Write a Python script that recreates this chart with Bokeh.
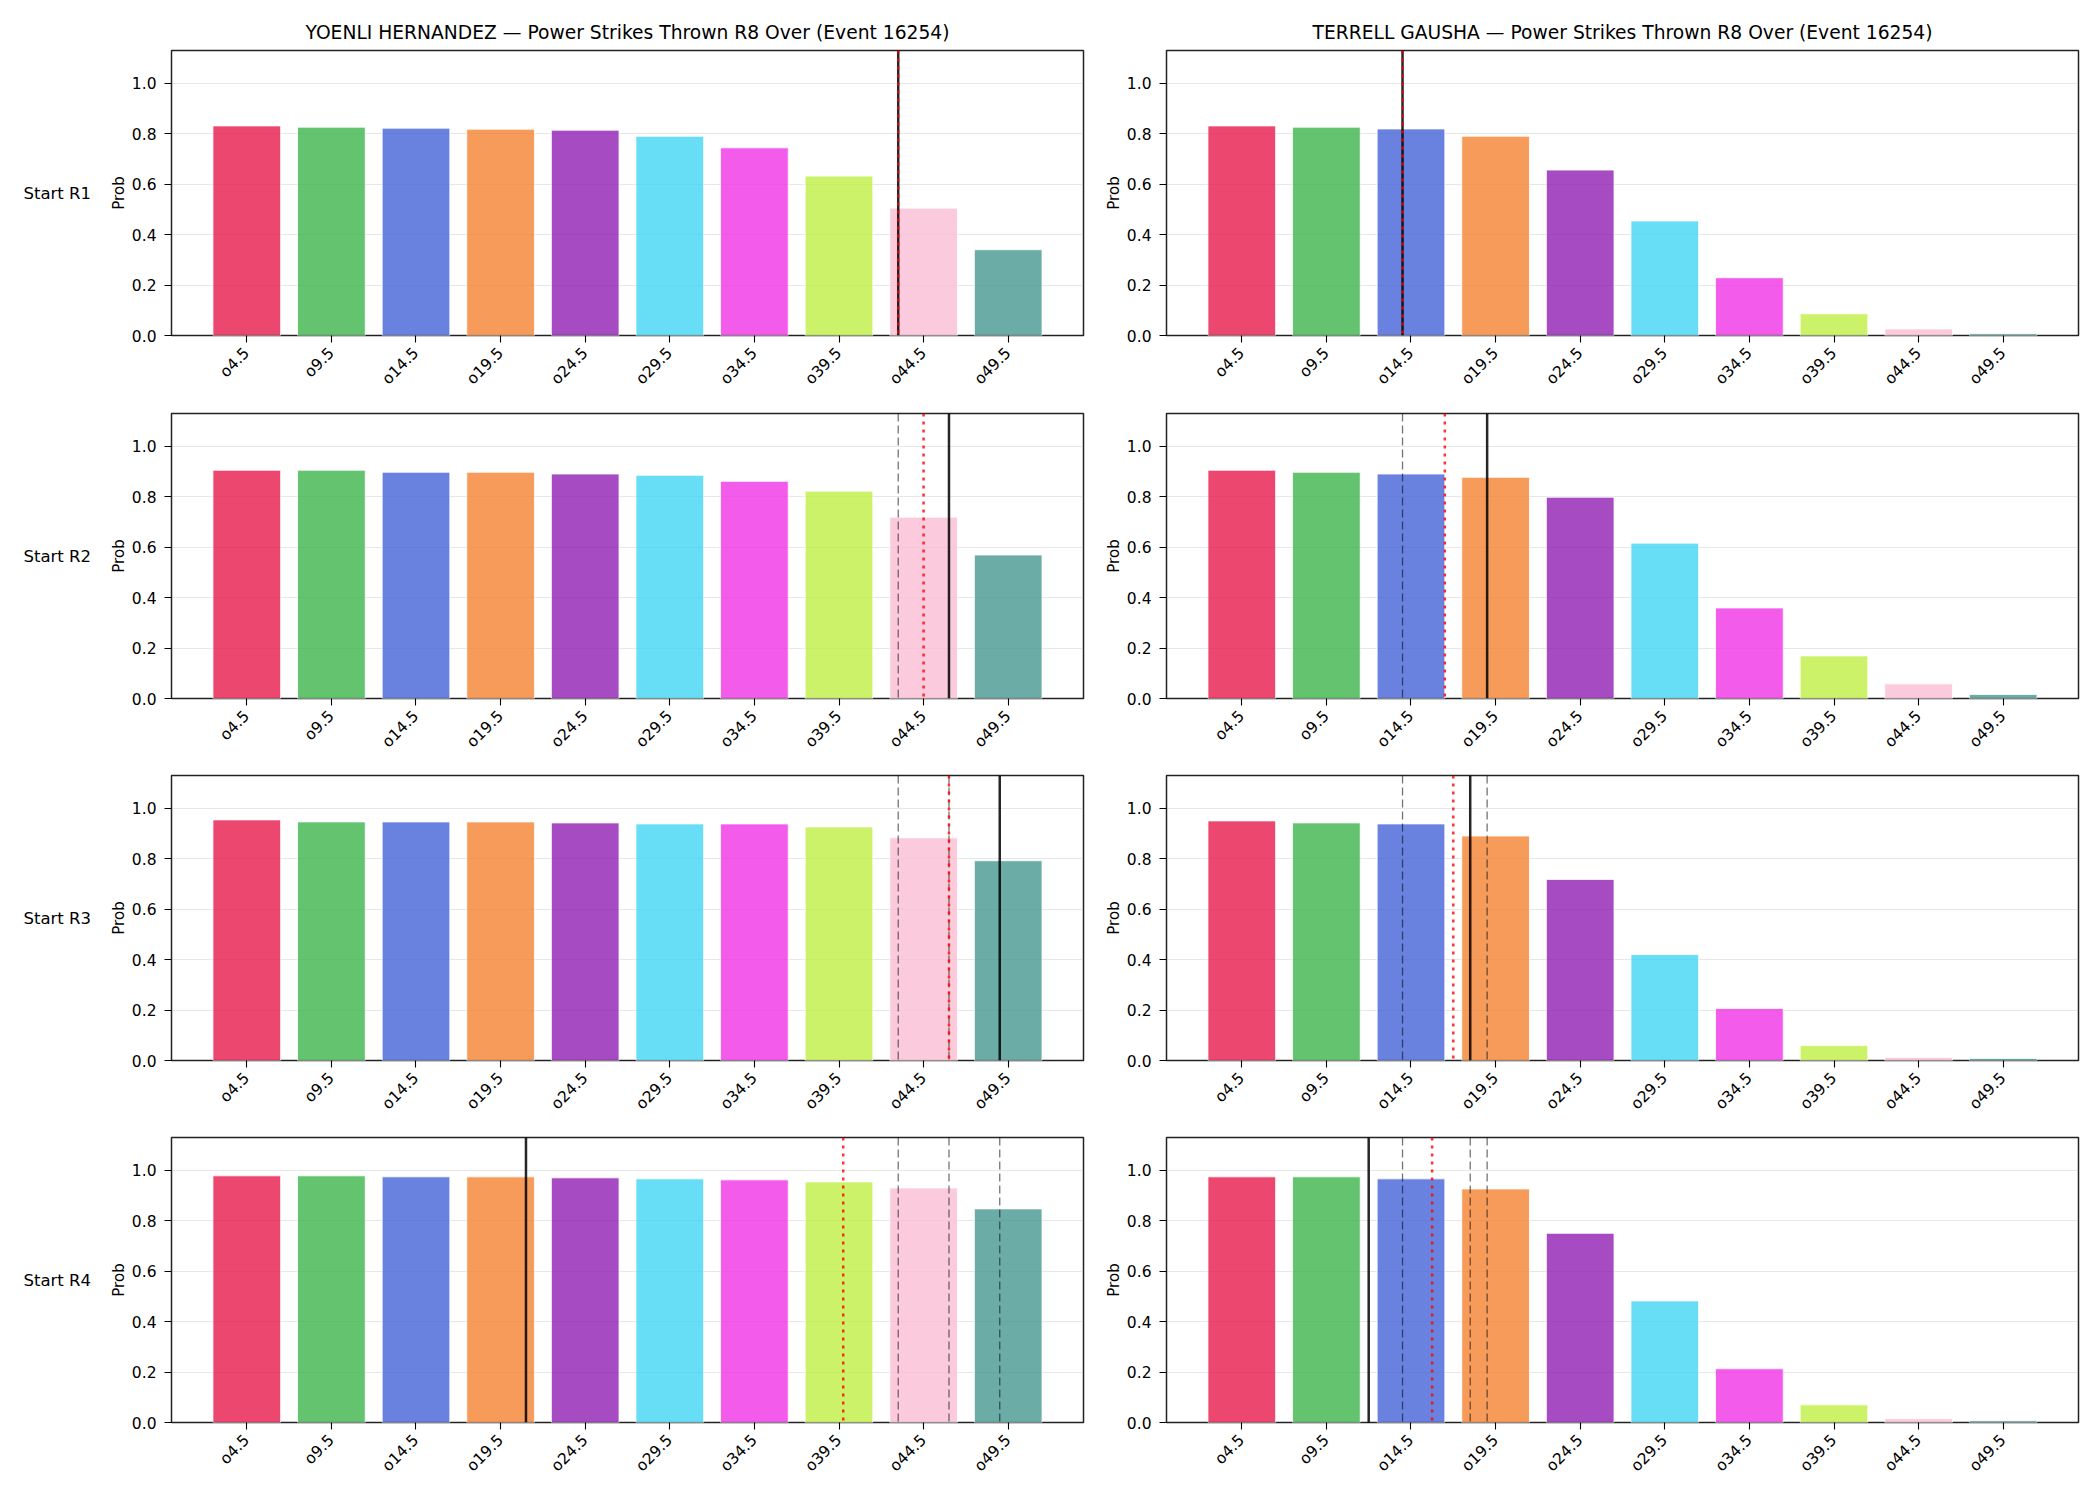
import math
import numpy as np
from bokeh.plotting import figure
from bokeh.layouts import column, row
from bokeh.models import (ColumnDataSource, Range1d, FixedTicker, PrintfTickFormatter,
                          Span)
from bokeh.core.properties import value
from bokeh.embed import file_html
from bokeh.resources import INLINE

# ---- data -----------------------------------------------------------------
categories = ["o4.5", "o9.5", "o14.5", "o19.5", "o24.5",
              "o29.5", "o34.5", "o39.5", "o44.5", "o49.5"]
thresholds = [4.5, 9.5, 14.5, 19.5, 24.5, 29.5, 34.5, 39.5, 44.5, 49.5]
round_labels = ["Start R1", "Start R2", "Start R3", "Start R4"]
event_id = 16254
fighters = ["YOENLI HERNANDEZ", "TERRELL GAUSHA"]

bar_colors = ["#e6194B", "#3cb44b", "#4363d8", "#f58231", "#911eb4",
              "#42d4f4", "#f032e6", "#bfef45", "#fabed4", "#469990"]

# P(over) per threshold, one list per starting round
hernandez_r1 = [0.831, 0.826, 0.822, 0.818, 0.814, 0.790, 0.744, 0.632, 0.505, 0.340]
hernandez_r2 = [0.905, 0.905, 0.897, 0.897, 0.890, 0.885, 0.861, 0.822, 0.719, 0.569]
hernandez_r3 = [0.954, 0.946, 0.946, 0.946, 0.942, 0.938, 0.938, 0.926, 0.883, 0.792]
hernandez_r4 = [0.978, 0.978, 0.974, 0.974, 0.970, 0.966, 0.962, 0.954, 0.930, 0.847]

gausha_r1 = [0.831, 0.826, 0.819, 0.790, 0.656, 0.454, 0.229, 0.086, 0.026, 0.007]
gausha_r2 = [0.905, 0.897, 0.890, 0.877, 0.798, 0.616, 0.359, 0.169, 0.058, 0.016]
gausha_r3 = [0.950, 0.942, 0.938, 0.890, 0.718, 0.420, 0.206, 0.059, 0.012, 0.008]
gausha_r4 = [0.974, 0.974, 0.966, 0.926, 0.750, 0.482, 0.213, 0.070, 0.015, 0.007]

# strike counts per round (solid line) and running average (dotted line)
hernandez_lines = [43, 46, 49, 21]
hernandez_running = [43.0, 44.5, 46.0, 39.75]
gausha_lines = [14, 19, 18, 12]
gausha_running = [14.0, 16.5, 17.0, 15.75]

FONT = "DejaVu Sans"
positions = list(range(len(categories)))

FRAME_W, FRAME_H = 912, 285
TOP = [50, 10, 9, 9]
BOTTOM = 68
LABEL_W = 100


def to_axis(v):
    """Place a strike count on the threshold axis."""
    return float(np.interp(v, thresholds, positions))


def make_row_label(r):
    # same vertical borders as the panels, so the text centres on their frames
    lp = figure(frame_width=LABEL_W, frame_height=FRAME_H,
                x_range=Range1d(0, LABEL_W), y_range=Range1d(0, 1),
                output_backend="svg", toolbar_location=None, tools="",
                x_axis_type=None, y_axis_type=None,
                min_border_left=0, min_border_right=0,
                min_border_top=TOP[r], min_border_bottom=BOTTOM,
                outline_line_color=None, background_fill_color="white",
                border_fill_color="white")
    lp.text(x=[23], y=[0.5], text=[round_labels[r]],
            text_font=value(FONT), text_font_size=value("16.5px"),
            text_align="left", text_baseline="middle", text_color="black")
    return lp


def make_panel(probs, lines, running, r, col):
    left_col = col == 0
    p = figure(frame_width=FRAME_W, frame_height=FRAME_H,
               x_range=Range1d(-0.89, 9.89), y_range=Range1d(0, 1.13),
               output_backend="svg", toolbar_location=None, tools="",
               min_border_left=71 if left_col else 73,
               min_border_right=10 if left_col else 22,
               min_border_top=TOP[r], min_border_bottom=BOTTOM,
               background_fill_color="white", border_fill_color="white")

    if r == 0:
        p.title.text = f"{fighters[col]} \u2014 Power Strikes Thrown R8 Over (Event {event_id})"
        p.title.align = "center"
        p.title.text_font = FONT
        p.title.text_font_size = "18.7px"
        p.title.text_font_style = "normal"
        p.title.text_color = "black"
        p.title.standoff = 15

    src = ColumnDataSource(dict(x=positions, top=probs, color=bar_colors))
    p.vbar(x="x", top="top", width=0.8, source=src, fill_color="color",
           fill_alpha=0.8, line_color="white", line_width=0.8)

    # earlier rounds (dashed), this round (solid), running average (dotted)
    for v in lines[:r]:
        p.add_layout(Span(location=to_axis(v), dimension="height",
                          line_color="black", line_alpha=0.55,
                          line_width=1.3, line_dash="8 4"))
    p.add_layout(Span(location=to_axis(lines[r]), dimension="height",
                      line_color="black", line_alpha=0.85, line_width=2.5))
    p.add_layout(Span(location=to_axis(running[r]), dimension="height",
                      line_color="red", line_alpha=0.8, line_width=2.5,
                      line_dash="3 5"))

    p.xaxis.ticker = FixedTicker(ticks=positions)
    p.xaxis.major_label_overrides = {i: c for i, c in enumerate(categories)}
    p.xaxis.major_label_orientation = math.pi / 4
    p.yaxis.ticker = FixedTicker(ticks=[0.0, 0.2, 0.4, 0.6, 0.8, 1.0])
    p.yaxis.formatter = PrintfTickFormatter(format="%.1f")
    p.yaxis.axis_label = "Prob"
    p.yaxis.axis_label_text_font = FONT
    p.yaxis.axis_label_text_font_size = "15px"
    p.yaxis.axis_label_text_font_style = "normal"
    p.yaxis.axis_label_text_color = "black"
    p.yaxis.axis_label_standoff = 1

    for ax in (p.xaxis[0], p.yaxis[0]):
        ax.axis_line_color = None
        ax.major_tick_out = 7
        ax.major_tick_in = 0
        ax.minor_tick_line_color = None
        ax.major_tick_line_color = "black"
        ax.major_tick_line_width = 1.1
        ax.major_label_text_font = FONT
        ax.major_label_text_font_size = "15.5px"
        ax.major_label_text_color = "black"
        ax.major_label_standoff = 8

    p.xgrid.visible = False
    p.ygrid.grid_line_color = "#b0b0b0"
    p.ygrid.grid_line_alpha = 0.3
    p.ygrid.grid_line_width = 1.1

    p.outline_line_color = "#222222"
    p.outline_line_width = 1.5
    p.outline_line_alpha = 1.0
    return p


hernandez = [hernandez_r1, hernandez_r2, hernandez_r3, hernandez_r4]
gausha = [gausha_r1, gausha_r2, gausha_r3, gausha_r4]

rows = []
for r in range(4):
    label = make_row_label(r)
    left = make_panel(hernandez[r], hernandez_lines, hernandez_running, r, 0)
    right = make_panel(gausha[r], gausha_lines, gausha_running, r, 1)
    rows.append(row(label, left, right, spacing=0))

layout = column(*rows, spacing=0)

with open("out.html", "w") as f:
    f.write(file_html(layout, INLINE, title="Power Strikes Thrown R8 Over"))
